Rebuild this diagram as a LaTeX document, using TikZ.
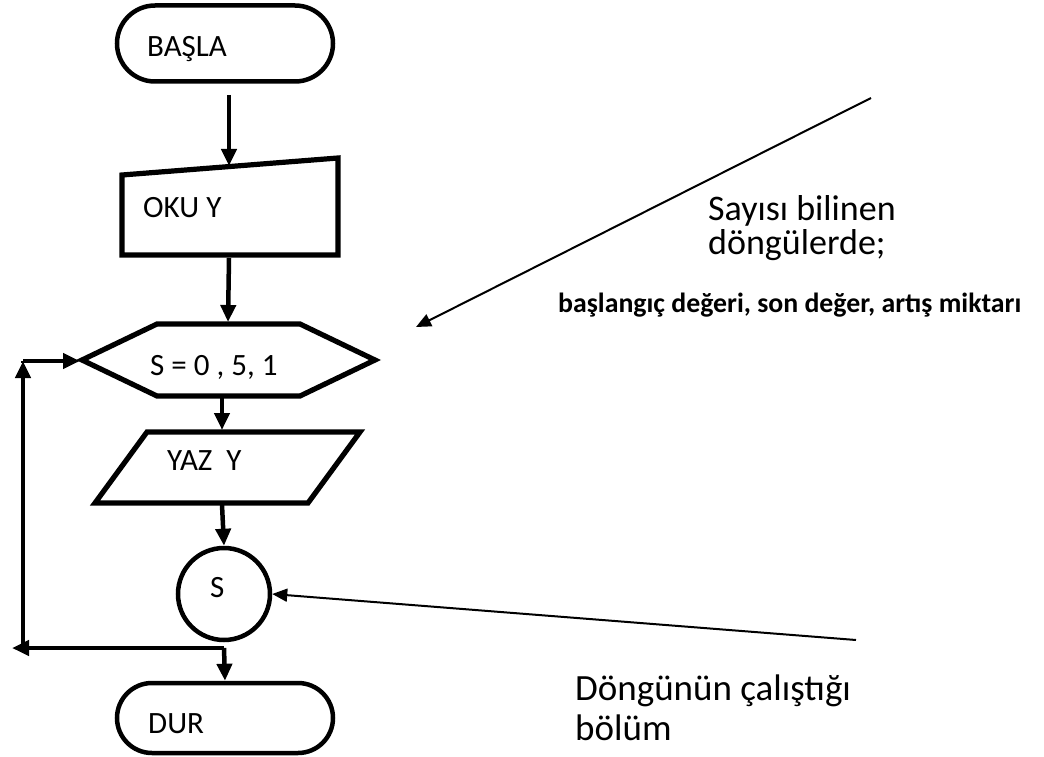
\documentclass[tikz,border=0pt]{standalone}
\usepackage{fontspec}
\setmainfont{Carlito}
\usetikzlibrary{arrows.meta}
\begin{document}
\begin{tikzpicture}[x=1pt,y=-1pt,
  shape line/.style={line width=5.2pt, line join=miter},
  flow/.style={line width=4.5pt, -{Triangle[length=17pt,width=15pt]}},
  note/.style={line width=2pt, -{Triangle[length=15pt,width=13pt]}},
  txt/.style={anchor=base west, inner sep=0pt, font=\fontsize{31}{36}\selectfont},
  big/.style={anchor=base west, inner sep=0pt, font=\fontsize{36}{40}\selectfont},
  small/.style={anchor=base west, inner sep=0pt, font=\bfseries\fontsize{27.8}{32}\selectfont},
  terminal/.style={draw, line width=4.5pt, rounded corners=38pt, minimum width=216pt, minimum height=76pt, inner sep=0pt}]
\useasboundingbox (0,0) rectangle (1044,757);

% start terminal
\node[terminal] (start) at (225,43.5) {};
\node[txt] (startT) at (147,57) {BAŞLA};

% manual input: OKU Y
\draw[shape line] (122,175) -- (338,158) -- (338,255) -- (122,255) -- cycle;
\coordinate (okuTop) at (229,166);
\coordinate (okuBot) at (229,258);
\node[txt] (okuT) at (143,217) {OKU Y};

% loop hexagon
\draw[shape line] (82,360) -- (157,324) -- (300,324) -- (375,360) -- (300,396) -- (157,396) -- cycle;
\coordinate (hexTop) at (228,322);
\coordinate (hexBot) at (222,398);
\coordinate (hexW) at (80,361);
\node[txt] (hexT) at (150,375) {S = 0 , 5, 1};

% output parallelogram: YAZ Y
\draw[shape line] (147,432) -- (360,432) -- (308,503) -- (95,503) -- cycle;
\coordinate (yazTop) at (222,430);
\coordinate (yazBot) at (222,505);
\node[txt] (yazT) at (167,470) {YAZ\ \ Y};

% loop end connector
\node[draw, circle, line width=4.5pt, minimum size=92pt, inner sep=0pt] (sc) at (224,594) {};
\node[txt] (scT) at (210,597) {S};

% stop terminal
\node[terminal, minimum height=70pt, rounded corners=35pt] (stop) at (225,718) {};
\node[txt] (stopT) at (148,733) {DUR};

% flow arrows
\draw[flow] (229,95) -- (okuTop);
\draw[flow] (okuBot) -- (hexTop);
\draw[flow] (hexBot) -- (yazTop);
\draw[flow] (yazBot) -- (sc.north);

\coordinate (split) at (224,648);
\coordinate (loopL) at (12,648);
\coordinate (loopB) at (23,651);
\coordinate (loopT) at (23,361);
\draw[flow] (split) -- (stop.north);
\draw[flow] (split) -- (loopL);
\draw[flow] (loopB) -- (loopT);
\draw[line width=4.5pt] (loopT) -- +(0,2);
\draw[flow] (loopT) -- (hexW);

% annotations
\coordinate (n1) at (871,98);
\coordinate (n1tip) at (416,327);
\draw[note] (n1) -- (n1tip);
\node[big] (a1) at (708,220) {Sayısı bilinen};
\node[big] (a2) at (708,254) {döngülerde;};
\node[small] (a3) at (558,312) {başlangıç değeri, son değer, artış miktarı};

\coordinate (n2) at (856,640);
\draw[note] (n2) -- (sc.east);
\node[big, font=\fontsize{37}{40}\selectfont] (b1) at (575,700) {Döngünün çalıştığı};
\node[big, font=\fontsize{37}{40}\selectfont] (b2) at (575,740) {bölüm};
\end{tikzpicture}
\end{document}
